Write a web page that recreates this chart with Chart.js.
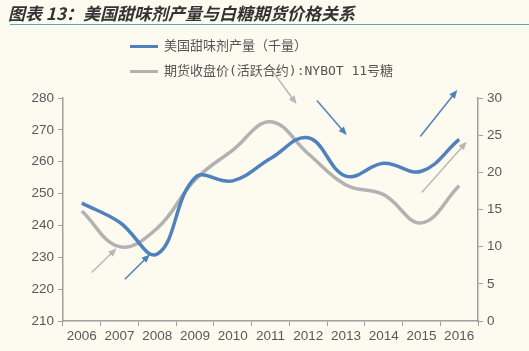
<!DOCTYPE html>
<html>
<head>
<meta charset="utf-8">
<script src="https://cdn.jsdelivr.net/npm/chart.js@4"></script>
<style>
  body { margin: 0; background: #fdfaf0; }
  #wrap { position: relative; width: 529px; height: 351px; }
  #title { position: absolute; left: 8px; top: 0px; font: italic bold 17px "Noto Sans CJK SC", sans-serif; color: #333; }
  #rule { position: absolute; left: 10px; right: 0; top: 24px; height: 1px; background: #5aa6b4; }
  .lg { position: absolute; left: 130px; font: 13px "DejaVu Sans Mono", "Noto Sans CJK SC", monospace; color: #555; }
  .lg span { display: inline-block; width: 28px; height: 3px; vertical-align: middle; margin-right: 6px; }
  canvas { position: absolute; left: 0; top: 0; }
</style>
</head>
<body>
<div id="wrap">
  <canvas id="c" width="529" height="351"></canvas>
  <div id="title">图表 13：美国甜味剂产量与白糖期货价格关系</div>
  <div id="rule"></div>
  <div class="lg" style="top:35px"><span style="background:#4f81bd"></span>美国甜味剂产量（千量）</div>
  <div class="lg" style="top:60px"><span style="background:#b2b2b2"></span>期货收盘价(活跃合约):NYBOT 11号糖</div>
</div>
<script>
// 年份
const years = ['2006', '2007', '2008', '2009', '2010', '2011', '2012', '2013', '2014', '2015', '2016'];
// 美国甜味剂产量（左轴）
const sweetener = [247, 241, 231, 255, 254, 261, 267.5, 255.5, 259.5, 257, 267];
// NYBOT 11号糖期货收盘价（右轴）
const sugarPrice = [14.8, 10.0, 12.5, 19.0, 23.0, 26.8, 22.5, 18.3, 17.0, 13.2, 18.2];

// 趋势箭头（x为类目序号，y为左轴数值）
const arrows = [
  { from: [0.26, 225.2], to: [0.92, 232.8], color: '#b8b8b8' },
  { from: [1.14, 223.1], to: [1.80, 230.9], color: '#4f81bd' },
  { from: [5.02, 289.0], to: [5.69, 278.1], color: '#b8b8b8' },
  { from: [6.23, 279.2], to: [7.02, 268.4], color: '#4f81bd' },
  { from: [8.97, 267.9], to: [9.95, 282.5], color: '#4f81bd' },
  { from: [9.01, 250.3], to: [10.2, 266.3], color: '#b8b8b8' }
];

const arrowPlugin = {
  id: 'arrows',
  afterDatasetsDraw(chart) {
    const ctx = chart.ctx, xs = chart.scales.x, ys = chart.scales.y;
    arrows.forEach(a => {
      const x1 = xs.getPixelForValue(a.from[0]), y1 = ys.getPixelForValue(a.from[1]);
      const x2 = xs.getPixelForValue(a.to[0]), y2 = ys.getPixelForValue(a.to[1]);
      const ang = Math.atan2(y2 - y1, x2 - x1);
      ctx.save();
      ctx.strokeStyle = a.color;
      ctx.fillStyle = a.color;
      ctx.lineWidth = 1.5;
      ctx.beginPath();
      ctx.moveTo(x1, y1);
      ctx.lineTo(x2 - 6 * Math.cos(ang), y2 - 6 * Math.sin(ang));
      ctx.stroke();
      ctx.beginPath();
      ctx.moveTo(x2, y2);
      ctx.lineTo(x2 - 9 * Math.cos(ang - 0.4), y2 - 9 * Math.sin(ang - 0.4));
      ctx.lineTo(x2 - 9 * Math.cos(ang + 0.4), y2 - 9 * Math.sin(ang + 0.4));
      ctx.closePath();
      ctx.fill();
      ctx.restore();
    });
  }
};

const tickFont = { family: 'Liberation Sans, Arial, sans-serif', size: 13.5 };
const axisColor = '#a0a0a0';

new Chart(document.getElementById('c'), {
  type: 'line',
  data: {
    labels: years,
    datasets: [
      {
        label: '美国甜味剂产量（千量）',
        data: sweetener,
        yAxisID: 'y',
        borderColor: '#4f81bd',
        borderWidth: 3.5,
        pointRadius: 0,
        tension: 0.4,
        fill: false
      },
      {
        label: '期货收盘价(活跃合约):NYBOT 11号糖',
        data: sugarPrice,
        yAxisID: 'y1',
        borderColor: '#b2b2b2',
        borderWidth: 3.5,
        pointRadius: 0,
        tension: 0.4,
        fill: false
      }
    ]
  },
  options: {
    responsive: false,
    animation: false,
    layout: { padding: { top: 98, left: 0, right: 0, bottom: 0 } },
    plugins: { legend: { display: false }, tooltip: { enabled: false } },
    scales: {
      x: {
        offset: true,
        grid: { offset: true, drawOnChartArea: false, drawTicks: true, tickLength: 5, color: axisColor },
        border: { color: axisColor, width: 1.5 },
        ticks: { color: '#595959', font: tickFont, padding: 2, maxRotation: 0 },
        afterFit(s) { s.height = 30; }
      },
      y: {
        position: 'left',
        min: 210, max: 280,
        ticks: { stepSize: 10, color: '#595959', font: tickFont, padding: 4 },
        grid: { drawOnChartArea: false, tickLength: 5, color: axisColor },
        border: { color: axisColor, width: 1.5 },
        afterFit(s) { s.width = 63; }
      },
      y1: {
        position: 'right',
        min: 0, max: 30,
        ticks: { stepSize: 5, color: '#595959', font: tickFont, padding: 4 },
        grid: { drawOnChartArea: false, tickLength: 5, color: axisColor },
        border: { color: axisColor, width: 1.5 },
        afterFit(s) { s.width = 51; }
      }
    }
  },
  plugins: [arrowPlugin]
});
</script>
</body>
</html>
